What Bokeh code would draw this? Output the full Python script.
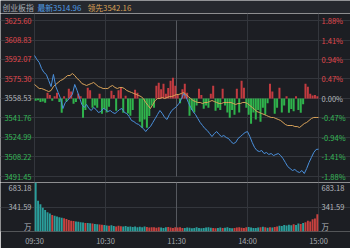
from bokeh.plotting import figure
from bokeh.layouts import column
from bokeh.models import ColumnDataSource, Range1d, FixedTicker, Label
from bokeh.core.properties import value
from bokeh.embed import file_html
from bokeh.resources import INLINE

# ---------------- data ----------------
index_name = "创业板指"
latest_label = "最新3514.96"
lead_label = "领先3542.16"
BASE = 3558.53
price_ticks = [3625.60, 3608.83, 3592.07, 3575.30, 3558.53, 3541.76, 3524.99, 3508.22, 3491.45]
pct_labels = ["1.88%", "1.41%", "0.94%", "0.47%", "0.00%", "-0.47%", "-0.94%", "-1.41%", "-1.88%"]
time_ticks = [0, 60, 120, 180, 240]
time_labels = ["09:30", "10:30", "11:30", "14:00", "15:00"]
vol_max = 683.18
vol_mid = 341.59
vol_unit = "万"

minutes = list(range(0, 241, 2))
index_price = [
    3595.5, 3592.1, 3589.5, 3584.3, 3580.9, 3579.2, 3574.0, 3568.8, 3579.2, 3568.8,
    3563.7, 3558.5, 3549.9, 3555.1, 3556.8, 3559.4, 3562.0, 3570.6, 3565.4, 3559.4,
    3553.4, 3550.8, 3553.4, 3549.9, 3548.2, 3550.8, 3549.1, 3546.5, 3547.3, 3549.9,
    3549.1, 3547.3, 3548.2, 3546.5, 3545.6, 3547.3, 3549.1, 3549.9, 3546.5, 3545.6,
    3543.0, 3539.6, 3538.7, 3537.0, 3536.2, 3534.4, 3532.7, 3530.1, 3532.7, 3534.4,
    3537.9, 3541.3, 3544.8, 3548.2, 3545.6, 3542.2, 3540.5, 3544.8, 3548.2, 3549.9,
    3551.6, 3554.2, 3557.7, 3562.8, 3560.2, 3555.1, 3550.8, 3547.3, 3544.8, 3541.3,
    3537.9, 3535.3, 3532.7, 3531.0, 3528.4, 3525.8, 3528.4, 3530.1, 3527.6, 3525.8,
    3526.7, 3525.0, 3524.1, 3521.5, 3519.8, 3520.7, 3524.1, 3525.8, 3527.6, 3529.3,
    3530.1, 3525.8, 3520.7, 3516.4, 3513.8, 3512.9, 3513.8, 3511.2, 3512.1, 3510.4,
    3511.2, 3509.5, 3510.4, 3511.2, 3509.5, 3506.9, 3503.5, 3500.0, 3498.3, 3496.6,
    3497.5, 3495.7, 3494.9, 3496.6, 3494.0, 3498.3, 3503.5, 3507.8, 3512.1, 3514.7,
    3514.96,
]
lead_price = [
    3570.6, 3568.8, 3567.1, 3567.1, 3566.3, 3565.4, 3564.5, 3565.4, 3568.8, 3570.6,
    3572.3, 3574.0, 3574.9, 3576.6, 3578.3, 3578.3, 3580.0, 3578.3, 3575.7, 3574.0,
    3571.4, 3570.6, 3569.7, 3570.6, 3571.4, 3572.3, 3570.6, 3568.8, 3568.0, 3567.1,
    3567.1, 3567.1, 3568.8, 3569.7, 3568.0, 3567.1, 3568.0, 3568.0, 3567.1, 3565.4,
    3564.5, 3563.7, 3562.8, 3562.0, 3561.1, 3560.2, 3558.5, 3555.1, 3552.5, 3549.9,
    3553.4, 3556.8, 3558.5, 3558.5, 3559.4, 3558.5, 3559.4, 3560.2, 3560.2, 3561.1,
    3562.0, 3562.0, 3562.8, 3563.7, 3562.0, 3560.2, 3558.5, 3556.8, 3555.9, 3555.1,
    3555.1, 3554.2, 3555.1, 3555.1, 3555.9, 3556.8, 3555.9, 3555.1, 3554.2, 3554.2,
    3555.1, 3555.1, 3555.1, 3555.1, 3554.2, 3553.4, 3554.2, 3554.2, 3555.1, 3555.1,
    3554.2, 3552.5, 3550.8, 3549.1, 3547.3, 3546.5, 3545.6, 3544.8, 3543.9, 3543.0,
    3542.2, 3542.2, 3541.3, 3540.5, 3539.6, 3537.9, 3536.2, 3535.3, 3535.3, 3535.3,
    3534.4, 3534.4, 3533.6, 3535.3, 3537.0, 3537.9, 3539.6, 3541.3, 3542.2, 3542.2,
    3542.16,
]
bar_minutes = list(range(1, 240, 2))
strength = [
    -2.0, -1.5, -3.0, -2.5, -3.7, 4.9, 3.0, -2.0, 2.0, 4.9,
    -3.0, -12.3, 2.0, -2.5, 8.3, 6.0, -4.6, -3.0, 4.0, 2.0,
    -16.6, -10.0, 9.2, 7.0, -8.0, -6.0, -8.0, 4.0, -13.2, -9.0,
    -12.0, -7.0, 6.6, 3.0, -10.6, 7.0, 9.2, -12.3, 2.3, -13.0,
    -14.9, -10.0, 7.5, 5.0, -20.0, -25.2, -18.0, -25.2, -15.0, -6.0,
    -8.0, 10.9, 13.5, 8.0, 12.6, 4.0, 9.0, 15.2, 17.8, 10.9,
    3.0, -4.0, 8.0, 12.6, 5.0, -14.9, -10.0, -12.0, -6.0, 8.3,
    3.0, -8.9, -6.0, -8.0, 4.0, 10.9, -10.6, -8.0, -10.0, 8.3,
    -6.0, -12.0, -16.6, -10.0, -14.0, 8.3, -12.0, 15.2, 9.2, -8.0,
    -14.0, -21.8, -12.0, -18.0, -10.0, -20.0, -8.0, -14.0, -4.0, 12.6,
    6.0, -13.2, -8.0, 9.2, -12.0, -6.0, 2.0, -12.3, -9.0, -11.0,
    2.0, -10.0, -12.3, -5.0, 12.6, 10.0, 4.0, 2.5, 3.0, 2.0,
]
volume = [
    683.18, 430, 380, 330, 300, 270, 250, 230, 220, 210,
    200, 190, 185, 175, 160, 150, 145, 140, 135, 130,
    125, 120, 118, 115, 110, 105, 100, 98, 95, 90,
    85, 80, 88, 75, 70, 80, 72, 68, 75, 65,
    70, 62, 68, 60, 65, 58, 70, 62, 55, 60,
    58, 52, 60, 55, 50, 58, 62, 55, 50, 60,
    55, 60, 50, 48, 55, 52, 45, 50, 58, 48,
    45, 50, 55, 60, 52, 48, 45, 50, 55, 48,
    52, 58, 50, 45, 48, 55, 60, 52, 50, 58,
    62, 55, 50, 48, 55, 60, 65, 58, 52, 60,
    55, 62, 70, 80, 75, 90, 85, 95, 88, 100,
    90, 110, 105, 120, 130, 150, 140, 170, 180, 240,
]

# ---------------- style / layout ----------------
BG = "#1c1e23"
HEADER_BG = "#25282e"
GRID = "#33363c"
LUNCH = "#56595f"
RED = "#e0474c"
GREEN = "#35b957"
GREY = "#b4b8be"
AXIS_GREY = "#a6aab0"
BLUE = "#4a90dc"
ORANGE = "#d9a35a"
BAR_RED = "#c23b40"
BAR_GREEN = "#2fb34c"
VOL_RED = "#c8413f"
VOL_TEAL = "#2a9e9b"
FONT = "Noto Sans CJK SC"
FS = "7.5px"

W = 350
LEFT, RIGHT = 34, 32          # pixel margins around the plotting area
PLOT_W = W - LEFT - RIGHT     # 284 px
T0, T1 = time_ticks[0], time_ticks[-1]
px_t = (T1 - T0) / PLOT_W
x_lo, x_hi = T0 - LEFT * px_t, T1 + RIGHT * px_t

HDR_H = 13
MAIN_H, MAIN_TOP, MAIN_BOT = 169, 7, 6
main_plot_h = MAIN_H - MAIN_TOP - MAIN_BOT
p_hi, p_lo = price_ticks[0], price_ticks[-1]
px_p = (p_hi - p_lo) / main_plot_h

VOL_H, VOL_BOT = 66, 12
px_v = vol_max / (VOL_H - VOL_BOT)


def side_color(v):
    if abs(v - BASE) < 1e-6:
        return GREY
    return RED if v > BASE else GREEN


# ---------------- header ----------------
hdr = figure(width=W, height=HDR_H, x_range=Range1d(0, W), y_range=Range1d(0, HDR_H),
             output_backend="svg", toolbar_location=None,
             x_axis_location=None, y_axis_location=None,
             min_border=0, background_fill_color=HEADER_BG, border_fill_color=HEADER_BG,
             outline_line_color=None)
hdr.grid.visible = False
for txt, xx, colr in [(index_name, 2, "#a9aeb4"), (latest_label, 37, "#4f9be3"), (lead_label, 87, "#d9a055")]:
    hdr.add_layout(Label(x=xx, y=HDR_H / 2, text=txt, text_color=colr, text_font=FONT,
                         text_font_size="7.8px", text_baseline="middle", text_align="left"))

# ---------------- main price panel ----------------
p = figure(width=W, height=MAIN_H,
           x_range=Range1d(x_lo, x_hi),
           y_range=Range1d(p_lo - MAIN_BOT * px_p, p_hi + MAIN_TOP * px_p),
           output_backend="svg", toolbar_location=None,
           x_axis_location=None, y_axis_location=None, min_border=0,
           background_fill_color=BG, border_fill_color=BG, outline_line_color=None)
p.xgrid.ticker = FixedTicker(ticks=[T0, 60, 180, T1])
p.xgrid.bounds = (p_lo, p_hi)
p.ygrid.ticker = FixedTicker(ticks=price_ticks)
p.ygrid.bounds = (T0, T1)
p.grid.grid_line_color = GRID
p.segment(x0=[120], y0=[p_lo], x1=[120], y1=[p_hi], line_color=LUNCH, line_width=1)

bar_src = ColumnDataSource(dict(
    x=bar_minutes,
    top=[BASE + s for s in strength],
    bottom=[BASE] * len(strength),
    col=[BAR_RED if s > 0 else BAR_GREEN for s in strength],
))
p.vbar(x="x", width=1.7, top="top", bottom="bottom", fill_color="col", line_color=None, source=bar_src)
p.line(minutes, lead_price, line_color=ORANGE, line_width=1)
p.line(minutes, index_price, line_color=BLUE, line_width=1)

left_src = ColumnDataSource(dict(
    x=[T0] * len(price_ticks), y=price_ticks,
    text=[f"{v:.2f}" for v in price_ticks],
    col=[side_color(v) for v in price_ticks]))
right_src = ColumnDataSource(dict(
    x=[T1] * len(price_ticks), y=price_ticks,
    text=pct_labels,
    col=[side_color(v) for v in price_ticks]))
p.text(x="x", y="y", text="text", text_color="col", source=left_src, x_offset=-3,
       text_align="right", text_baseline="middle", text_font=value(FONT), text_font_size=FS)
p.text(x="x", y="y", text="text", text_color="col", source=right_src, x_offset=3,
       text_align="left", text_baseline="middle", text_font=value(FONT), text_font_size=FS)

# ---------------- volume panel ----------------
v = figure(width=W, height=VOL_H, x_range=Range1d(x_lo, x_hi), y_range=Range1d(0, vol_max),
           output_backend="svg", toolbar_location=None, y_axis_location=None,
           min_border_left=0, min_border_right=0, min_border_top=0, min_border_bottom=VOL_BOT,
           background_fill_color=BG, border_fill_color=BG, outline_line_color=None)
v.xaxis.ticker = FixedTicker(ticks=time_ticks)
v.xaxis.major_label_overrides = dict(zip(time_ticks, time_labels))
v.xaxis.axis_line_color = None
v.xaxis.major_tick_line_color = None
v.xaxis.minor_tick_line_color = None
v.xaxis.major_tick_out = 0
v.xaxis.major_tick_in = 0
v.xaxis.major_label_standoff = 3
v.xaxis.major_label_text_color = AXIS_GREY
v.xaxis.major_label_text_font = FONT
v.xaxis.major_label_text_font_size = FS
v.xgrid.ticker = FixedTicker(ticks=[T0, 60, 180, T1])
v.xgrid.bounds = (0, vol_max)
v.ygrid.ticker = FixedTicker(ticks=[0, vol_mid, vol_max])
v.ygrid.bounds = (T0, T1)
v.grid.grid_line_color = GRID
v.segment(x0=[120], y0=[0], x1=[120], y1=[vol_max], line_color=LUNCH, line_width=1)

vol_cols = [VOL_RED if index_price[i + 1] >= index_price[i] else VOL_TEAL for i in range(len(volume))]
vol_src = ColumnDataSource(dict(x=bar_minutes, top=volume, col=vol_cols))
v.vbar(x="x", width=1.6, top="top", bottom=0, fill_color="col", line_color=None, source=vol_src)

vl_y = [vol_max - 6 * px_v, vol_mid, 0]
vl_text = [f"{vol_max:.2f}", f"{vol_mid:.2f}", vol_unit]
vl_base = ["middle", "middle", "bottom"]
for xx, off, align in [(T0, -3, "right"), (T1, 3, "left")]:
    src = ColumnDataSource(dict(x=[xx] * 3, y=vl_y, text=vl_text, base=vl_base))
    v.text(x="x", y="y", text="text", source=src, x_offset=off,
           text_align=align, text_baseline="base", text_color=GREY,
           text_font=value(FONT), text_font_size=FS)

# ---------------- bottom strip ----------------
strip = figure(width=W, height=2, output_backend="svg", toolbar_location=None,
               x_axis_location=None, y_axis_location=None, min_border=0,
               background_fill_color="#2d6fb8", border_fill_color="#2d6fb8", outline_line_color=None)
strip.grid.visible = False

layout = column(hdr, p, v, strip, spacing=0)
open("out.html", "w").write(file_html(layout, INLINE))
